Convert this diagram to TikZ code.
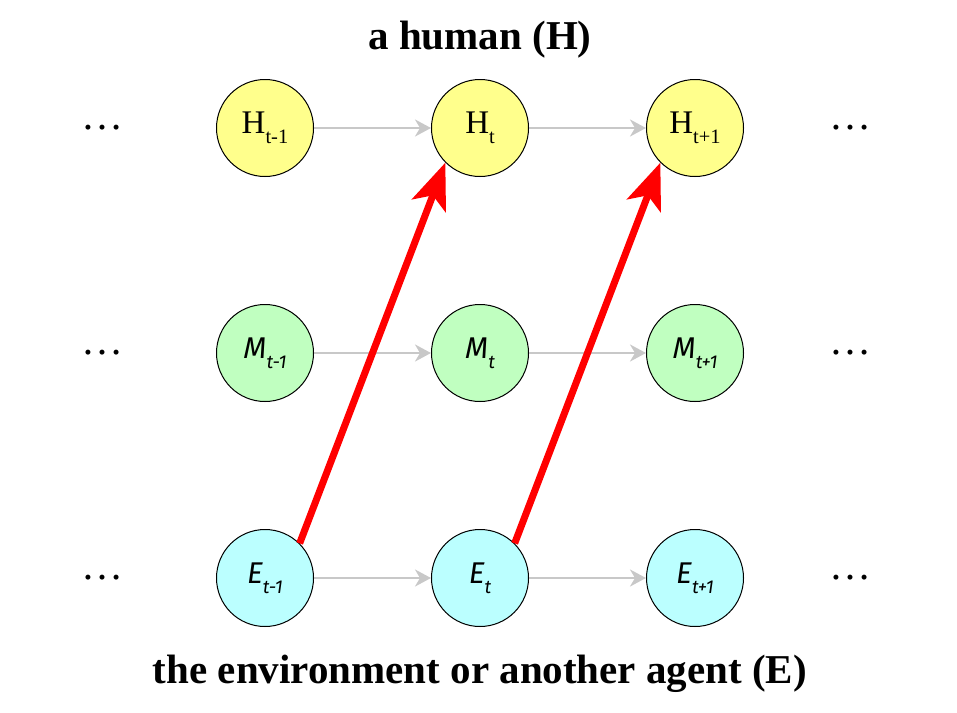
\documentclass[tikz,border=0pt]{standalone}
\usepackage{fontspec}
\setmainfont{Liberation Serif}
\newfontfamily\lblsans{Fira Sans}
\usetikzlibrary{arrows.meta}
\definecolor{hyel}{RGB}{255,255,140}
\definecolor{mgrn}{RGB}{192,255,192}
\definecolor{ecyn}{RGB}{187,255,255}
\definecolor{lgray}{RGB}{200,200,200}
\newcommand{\lowsub}[1]{\raisebox{-0.32em}{\fontsize{0.62em}{0.7em}\selectfont #1}}
\begin{document}
\begin{tikzpicture}[x=1pt,y=-1pt,
  state/.style={circle,draw=black,line width=1pt,minimum size=97pt,inner sep=0pt},
  hnode/.style={state,fill=hyel,font=\fontsize{33}{38}\selectfont},
  mnode/.style={state,fill=mgrn,font=\fontsize{30}{34}\selectfont\lblsans\itshape},
  enode/.style={state,fill=ecyn,font=\fontsize{30}{34}\selectfont\lblsans\itshape},
  dotsnode/.style={font=\fontsize{42}{46}\selectfont},
  titlenode/.style={font=\fontsize{41}{46}\selectfont\bfseries},
  timearrow/.style={draw=lgray,line width=2.6pt,-{Stealth[length=16pt,width=17pt,inset=5pt]}},
  infarrow/.style={draw=red,line width=7pt,-{Stealth[length=46pt,width=36pt,inset=11pt]}}
]
\useasboundingbox (0,0) rectangle (957,712);
\node[titlenode] (top) at (480,40) {a human (H)};
\node[titlenode] (bot) at (480,674) {the environment or another agent (E)};

\node[hnode] (h1) at (265,128) {H\lowsub{t-1}};
\node[hnode] (h2) at (480,128) {H\lowsub{t}};
\node[hnode] (h3) at (695,128) {H\lowsub{t+1}};
\node[mnode] (m1) at (265,353) {M\lowsub{t-1}};
\node[mnode] (m2) at (480,353) {M\lowsub{t}};
\node[mnode] (m3) at (695,353) {M\lowsub{t+1}};
\node[enode] (e1) at (265,578) {E\lowsub{t-1}};
\node[enode] (e2) at (480,578) {E\lowsub{t}};
\node[enode] (e3) at (695,578) {E\lowsub{t+1}};

\node[dotsnode] (dh1) at (102,128) {\dots};
\node[dotsnode] (dm1) at (102,353) {\dots};
\node[dotsnode] (de1) at (102,578) {\dots};
\node[dotsnode] (dh2) at (850,128) {\dots};
\node[dotsnode] (dm2) at (850,353) {\dots};
\node[dotsnode] (de2) at (850,578) {\dots};

\foreach \r in {h,m,e}{
  \draw[timearrow] (\r1.east) -- (\r2.west);
  \draw[timearrow] (\r2.east) -- (\r3.west);
}
\draw[infarrow] (e1.north east) -- (h2.south west);
\draw[infarrow] (e2.north east) -- (h3.south west);
\end{tikzpicture}
\end{document}
